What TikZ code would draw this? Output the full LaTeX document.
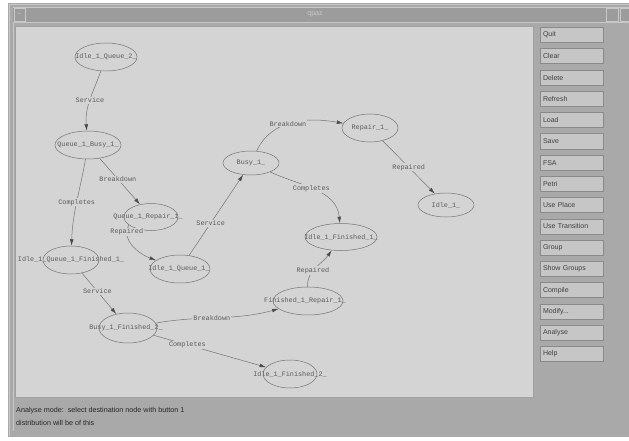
\documentclass[tikz,border=0pt]{standalone}
\usepackage{fontspec}
\setmainfont{Liberation Sans}
\newfontfamily\gmono{Liberation Mono}
\usetikzlibrary{shapes.geometric,arrows.meta}
\definecolor{canvasc}{HTML}{D4D4D4}
\definecolor{framec}{HTML}{A9A9A9}
\definecolor{titlec}{HTML}{9C9C9C}
\definecolor{btnc}{HTML}{C6C6C6}
\definecolor{btnedge}{HTML}{8A8A8A}
\definecolor{linec}{HTML}{747474}
\definecolor{textc}{HTML}{5A5A5A}
\definecolor{hilite}{HTML}{C8C8C8}
\begin{document}
\begin{tikzpicture}[x=1pt,y=1pt,
  st/.style={ellipse,draw=linec,line width=0.5pt,inner sep=0pt},
  stt/.style={font=\gmono\fontsize{6.8}{8}\selectfont,text=textc,inner sep=0pt},
  el/.style={font=\gmono\fontsize{6.8}{8}\selectfont,text=textc,fill=canvasc,inner sep=1pt},
  edge/.style={draw=linec,line width=0.5pt,-{Latex[length=6.5pt,width=3.8pt,color=black!70]}},
  btn/.style={rectangle,fill=btnc,draw=btnedge,line width=0.6pt,text width=57pt,align=left,
     inner xsep=3pt,inner ysep=0pt,minimum height=15pt,font=\fontsize{7}{8}\selectfont,text=black!75},
  stat/.style={anchor=west,font=\fontsize{7.2}{8}\selectfont,text=black!85,inner sep=0pt}]
\path[use as bounding box] (0,0) rectangle (629,440);
% window frame
\fill[white] (0,0) rectangle (629,440);
\fill[framec] (8,3) rectangle (629,437);
\draw[hilite,line width=0.8pt] (9,4) -- (9,436) -- (629,436);
\draw[hilite,line width=0.6pt] (13,9) -- (13,418);
% title bar
\fill[titlec] (13,418) rectangle (629,433);
\draw[hilite,line width=0.6pt] (13,418) -- (629,418);
\draw[hilite,line width=0.6pt] (13,433) -- (629,433);
\draw[hilite,line width=0.6pt] (14,419) rectangle (25,432);
\node[font=\fontsize{7}{8}\selectfont,text=hilite] (minbox) at (19.5,425.5) {--};
\draw[hilite,line width=0.6pt] (606,419) rectangle (618,432);
\node[font=\fontsize{6}{7}\selectfont,text=hilite] (dotbox) at (612,425.5) {.};
\draw[hilite,line width=0.6pt] (620,419) rectangle (629,432);
\node[font=\fontsize{7}{8}\selectfont,text=hilite] (title) at (315,426) {qpaz};
% canvas
\fill[canvasc] (15,43) rectangle (533,414);
\draw[hilite!80!black,line width=0.6pt] (15,43) rectangle (533,414);
% status lines
\node[stat] (s1) at (16,29) {Analyse mode:\ \ select destination node with button 1};
\node[stat] (s2) at (16,17) {distribution will be of this};
% buttons
\node[btn] (bq) at (571.5,405) {Quit};
\node[btn] (bc) at (571.5,383.7) {Clear};
\node[btn] (bd) at (571.5,362.5) {Delete};
\node[btn] (br) at (571.5,341.2) {Refresh};
\node[btn] (bl) at (571.5,319.9) {Load};
\node[btn] (bs) at (571.5,298.7) {Save};
\node[btn] (bf) at (571.5,277.4) {FSA};
\node[btn] (bp) at (571.5,256.1) {Petri};
\node[btn] (bup) at (571.5,234.8) {Use Place};
\node[btn] (but) at (571.5,213.6) {Use Transition};
\node[btn] (bg) at (571.5,192.3) {Group};
\node[btn] (bsg) at (571.5,171.0) {Show Groups};
\node[btn] (bco) at (571.5,149.8) {Compile};
\node[btn] (bm) at (571.5,128.5) {Modify...};
\node[btn] (ba) at (571.5,107.2) {Analyse};
\node[btn] (bh) at (571.5,86.0) {Help};
% states
\node[st,minimum width=62pt,minimum height=28pt] (iq2) at (106,383) {};
\node[stt] (iq2t) at (106,383) {Idle\_1\_Queue\_2\_};
\node[st,minimum width=66pt,minimum height=28pt] (qb1) at (88,295) {};
\node[stt] (qb1t) at (88,295) {Queue\_1\_Busy\_1\_};
\node[st,minimum width=54pt,minimum height=27pt] (qr1) at (151,223) {};
\node[stt] (qr1t) at (148,223) {Queue\_1\_Repair\_1\_};
\node[st,minimum width=56pt,minimum height=28pt] (iqf1) at (71,180) {};
\node[stt] (iqf1t) at (71,180) {Idle\_1\_Queue\_1\_Finished\_1\_};
\node[st,minimum width=60pt,minimum height=28pt] (iq1) at (180,171) {};
\node[stt] (iq1t) at (179,171) {Idle\_1\_Queue\_1\_};
\node[st,minimum width=56pt,minimum height=24pt] (b1) at (251,277) {};
\node[stt] (b1t) at (251,277) {Busy\_1\_};
\node[st,minimum width=56pt,minimum height=28pt] (r1) at (370,312) {};
\node[stt] (r1t) at (370,312) {Repair\_1\_};
\node[st,minimum width=56pt,minimum height=24pt] (i1) at (446,235) {};
\node[stt] (i1t) at (446,235) {Idle\_1\_};
\node[st,minimum width=72pt,minimum height=27pt] (if1) at (341,203) {};
\node[stt] (if1t) at (341,203) {Idle\_1\_Finished\_1\_};
\node[st,minimum width=70pt,minimum height=28pt] (fr1) at (308,139) {};
\node[stt] (fr1t) at (305,139) {Finished\_1\_Repair\_1\_};
\node[st,minimum width=58pt,minimum height=30pt] (bf2) at (128,112) {};
\node[stt] (bf2t) at (126,112) {Busy\_1\_Finished\_2\_};
\node[st,minimum width=54pt,minimum height=28pt] (if2) at (290,66) {};
\node[stt] (if2t) at (290,66) {Idle\_1\_Finished\_2\_};
% transitions
\draw[edge] (iq2) to[out=250,in=95] node[el,pos=0.5] (e1) {Service} (qb1);
\draw[edge] (qb1) -- node[el,pos=0.45] (e2) {Breakdown} (qr1);
\draw[edge] (qb1) to[out=260,in=88] node[el,pos=0.5] (e3) {Completes} (iqf1);
\draw[edge] (qr1.200) to[out=240,in=160] node[el,pos=0.15] (e4) {Repaired} (iq1);
\draw[edge] (iq1) -- node[el,pos=0.4] (e5) {Service} (b1);
\draw[edge] (b1) to[out=65,in=170] node[el,pos=0.45] (e6) {Breakdown} (r1);
\draw[edge] (r1) -- node[el,pos=0.5] (e7) {Repaired} (i1);
\draw[edge] (b1) to[out=-25,in=95] node[el,pos=0.45] (e8) {Completes} (if1);
\draw[edge] (iqf1) -- node[el,pos=0.45] (e9) {Service} (bf2);
\draw[edge] (bf2) to[out=10,in=195] node[el,pos=0.45] (e10) {Breakdown} (fr1);
\draw[edge] (fr1) to[out=92,in=235] node[el,pos=0.4] (e11) {Repaired} (if1);
\draw[edge] (bf2) -- node[el,pos=0.3] (e12) {Completes} (if2);
\end{tikzpicture}
\end{document}
